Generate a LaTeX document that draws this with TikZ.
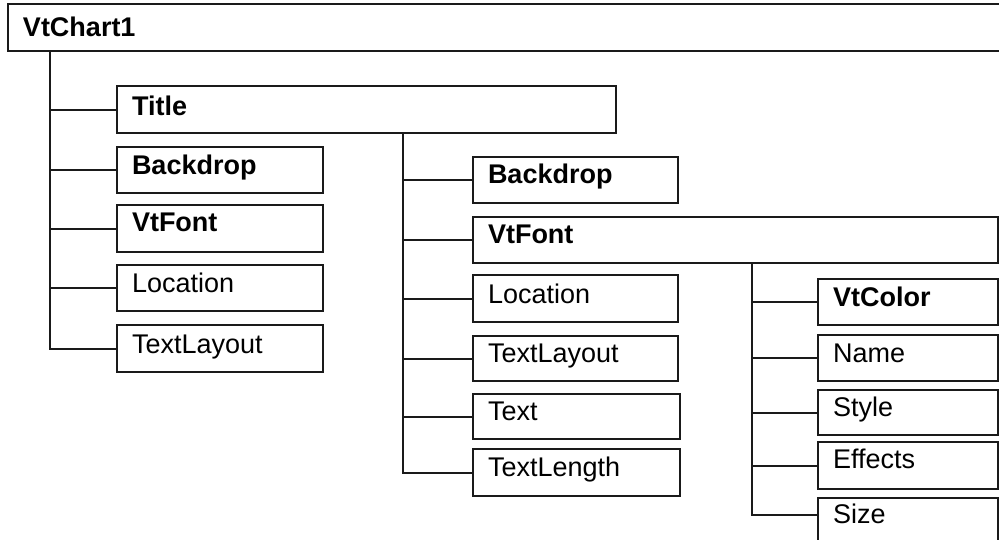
\documentclass[tikz,border=0pt]{standalone}
\usepackage{fontspec}
\setmainfont{Liberation Sans}
\usetikzlibrary{calc}
\definecolor{linec}{HTML}{1A1A1A}
\newcommand\mkbox[7]{% name, left, top, right, bottom, baseline offset, text
  \pgfmathsetmacro\bxw{#4-#2-30}%
  \pgfmathsetmacro\bxd{#5-#3-#6}%
  \node[tbox, text width=\bxw pt, text height=#6pt, text depth=\bxd pt] (#1) at (#2pt,-#3pt) {#7};%
}
\begin{document}
\begin{tikzpicture}[x=1pt,y=1pt,
  tbox/.style={draw=linec, line width=2pt, anchor=north west,
    inner xsep=15pt, inner ysep=0pt, align=left, fill=white,
    font=\fontsize{27}{30}\selectfont},
  conn/.style={draw=linec, line width=2pt}]
\useasboundingbox (0,0) rectangle (999,-539);
\clip (0,0) rectangle (999,-539);
\fill[white] (0,0) rectangle (999,-539);

% root
\mkbox{root}{7}{3}{1020}{50}{32}{\textbf{VtChart1}}

% first level
\mkbox{title}{116}{85}{615}{132}{29}{\textbf{Title}}
\mkbox{bdA}{116}{146}{322}{192}{27}{\textbf{Backdrop}}
\mkbox{vfA}{116}{204}{322}{251}{26}{\textbf{VtFont}}
\mkbox{locA}{116}{264}{322}{310}{27}{Location}
\mkbox{tlA}{116}{324}{322}{371}{28}{TextLayout}

% children of Title
\mkbox{bdB}{472}{156}{677}{202}{26}{\textbf{Backdrop}}
\mkbox{vfB}{472}{216}{997}{262}{26}{\textbf{VtFont}}
\mkbox{locB}{472}{274}{677}{321}{28}{Location}
\mkbox{tlB}{472}{335}{677}{380}{26}{TextLayout}
\mkbox{txB}{472}{393}{679}{438}{26}{Text}
\mkbox{tlenB}{472}{448}{679}{495}{27}{TextLength}

% children of VtFont
\mkbox{vcC}{817}{278}{997}{324}{27}{\textbf{VtColor}}
\mkbox{nmC}{817}{334}{997}{380}{27}{Name}
\mkbox{stC}{817}{389}{997}{434}{26}{Style}
\mkbox{efC}{817}{441}{997}{488}{26}{Effects}
\mkbox{szC}{817}{497}{997}{560}{25}{Size}

% trunk positions
\coordinate (tA) at (50,0);
\coordinate (tB) at (403,0);
\coordinate (tC) at (752,0);
\coordinate (szJ) at ($(szC.north west)+(0,-18)$);

% first-level trunk and branches
\draw[conn] (root.south -| tA) |- (tlA.west);
\foreach \n in {title,bdA,vfA,locA}
  \draw[conn] (tA |- \n.west) -- (\n.west);

% Title trunk and branches
\draw[conn] (title.south -| tB) |- (tlenB.west);
\foreach \n in {bdB,vfB,locB,tlB,txB}
  \draw[conn] (tB |- \n.west) -- (\n.west);

% VtFont trunk and branches
\draw[conn] (vfB.south -| tC) |- (szJ);
\foreach \n in {vcC,nmC,stC,efC}
  \draw[conn] (tC |- \n.west) -- (\n.west);
\end{tikzpicture}
\end{document}
